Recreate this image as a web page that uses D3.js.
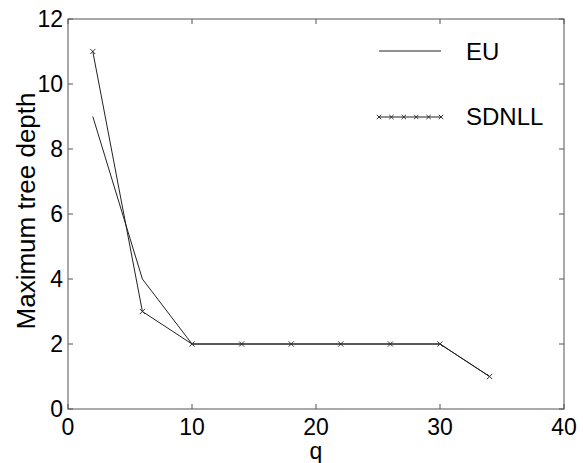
<!DOCTYPE html>
<html><head><meta charset="utf-8">
<script src="https://cdn.jsdelivr.net/npm/d3@7"></script>
<style>body{margin:0;background:#fff}svg{display:block}text{font-family:"Liberation Sans",Arial,sans-serif;fill:#000}</style>
</head><body><svg id="c" width="583" height="463"></svg>
<script>
const euQ = [2, 6, 10, 14, 18, 22, 26, 30, 34];
const euDepth = [9, 4, 2, 2, 2, 2, 2, 2, 1];
const sdnllQ = [2, 6, 10, 14, 18, 22, 26, 30, 34];
const sdnllDepth = [11, 3, 2, 2, 2, 2, 2, 2, 1];
const xTicks = [0, 10, 20, 30, 40];
const yTicks = [0, 2, 4, 6, 8, 10, 12];
const seriesNames = ["EU", "SDNLL"];

const svg = d3.select("#c");
const L = 68, R = 564, T = 19, B = 409;
const x = d3.scaleLinear().domain([0, 40]).range([L, R]);
const y = d3.scaleLinear().domain([0, 12]).range([B, T]);
const axisCol = "#555";

svg.append("rect").attr("x", L).attr("y", T).attr("width", R - L).attr("height", B - T)
  .attr("fill", "none").attr("stroke", axisCol).attr("stroke-width", 1);

const tl = 5;
xTicks.forEach(t => {
  svg.append("line").attr("x1", x(t)).attr("x2", x(t)).attr("y1", B).attr("y2", B - tl).attr("stroke", axisCol);
  svg.append("line").attr("x1", x(t)).attr("x2", x(t)).attr("y1", T).attr("y2", T + tl).attr("stroke", axisCol);
  svg.append("text").attr("x", x(t)).attr("y", 435).attr("text-anchor", "middle")
    .attr("font-size", 23).text(t);
});
yTicks.forEach(t => {
  svg.append("line").attr("x1", L).attr("x2", L + tl).attr("y1", y(t)).attr("y2", y(t)).attr("stroke", axisCol);
  svg.append("line").attr("x1", R).attr("x2", R - tl).attr("y1", y(t)).attr("y2", y(t)).attr("stroke", axisCol);
  svg.append("text").attr("x", 63).attr("y", y(t) + 8).attr("text-anchor", "end")
    .attr("font-size", 23).text(t);
});

svg.append("text").attr("x", (L + R) / 2).attr("y", 459).attr("text-anchor", "middle")
  .attr("font-size", 23).text("q");
svg.append("text").attr("transform", `translate(35,211) rotate(-90)`)
  .attr("text-anchor", "middle").attr("font-size", 26).text("Maximum tree depth");

const line = d3.line().x(d => x(d[0])).y(d => y(d[1]));
const lineCol = "#222";
const euData = euQ.map((q, i) => [q, euDepth[i]]);
const sdData = sdnllQ.map((q, i) => [q, sdnllDepth[i]]);

svg.append("path").attr("d", line(euData)).attr("fill", "none").attr("stroke", lineCol).attr("stroke-width", 1);
svg.append("path").attr("d", line(sdData)).attr("fill", "none").attr("stroke", lineCol).attr("stroke-width", 1);

function cross(g, cx, cy, s) {
  g.append("path").attr("d", `M${cx - s},${cy - s}L${cx + s},${cy + s}M${cx - s},${cy + s}L${cx + s},${cy - s}`)
    .attr("stroke", lineCol).attr("stroke-width", 0.9).attr("fill", "none");
}
sdData.forEach(d => cross(svg, x(d[0]), y(d[1]), 2.6));

svg.append("line").attr("x1", 379).attr("x2", 441).attr("y1", 51).attr("y2", 51).attr("stroke", lineCol);
svg.append("text").attr("x", 466).attr("y", 60).attr("font-size", 24).text(seriesNames[0]);
svg.append("line").attr("x1", 379).attr("x2", 441).attr("y1", 117).attr("y2", 117).attr("stroke", lineCol);
d3.range(6).forEach(i => cross(svg, 379 + i * 12.4, 117, 2.2));
svg.append("text").attr("x", 466).attr("y", 125).attr("font-size", 24).text(seriesNames[1]);
</script></body></html>
